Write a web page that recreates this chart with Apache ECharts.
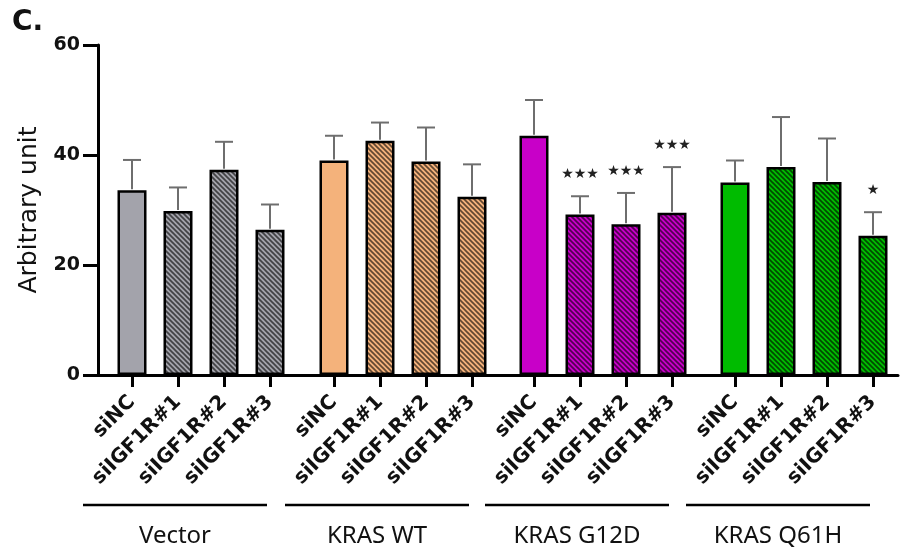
<!DOCTYPE html>
<html>
<head>
<meta charset="utf-8">
<script src="https://cdn.jsdelivr.net/npm/echarts@6/dist/echarts.min.js"></script>
<style>
html,body{margin:0;padding:0;background:#fff;}
#chart{width:902px;height:554px;}
</style>
</head>
<body>
<div id="chart"></div>
<script>
// ---- data ----
var categories = ['siNC', 'siIGF1R#1', 'siIGF1R#2', 'siIGF1R#3'];
var groups = ['Vector', 'KRAS WT', 'KRAS G12D', 'KRAS Q61H'];
var yTicks = [0, 20, 40, 60];

var vectorMean = [33.6, 29.8, 37.3, 26.4];
var wtMean     = [39.0, 42.6, 38.8, 32.4];
var g12dMean   = [43.5, 29.2, 27.4, 29.5];
var q61hMean   = [35.0, 37.8, 35.1, 25.3];

var vectorErr = [5.5, 4.3, 5.1, 4.6];
var wtErr     = [4.5, 3.3, 6.2, 5.9];
var g12dErr   = [6.5, 3.3, 5.7, 8.3];
var q61hErr   = [4.0, 9.1, 7.9, 4.3];

var vectorSig = ['', '', '', ''];
var wtSig     = ['', '', '', ''];
var g12dSig   = ['', '***', '***', '***'];
var q61hSig   = ['', '', '', '*'];

// ---- styling / layout ----
var groupColors = ['#a3a3ab', '#f4b27b', '#c800c8', '#00bb00'];
var gridLefts = [109, 311, 511, 712];
var gridWidth = 184;
var plotTop = 45, plotBottom = 179;

var means = [vectorMean, wtMean, g12dMean, q61hMean];
var errs = [vectorErr, wtErr, g12dErr, q61hErr];
var sigs = [vectorSig, wtSig, g12dSig, q61hSig];

function hatch(color) {
  var s = 5;
  var c = document.createElement('canvas');
  c.width = s; c.height = s;
  var ctx = c.getContext('2d');
  ctx.fillStyle = color;
  ctx.fillRect(0, 0, s, s);
  ctx.strokeStyle = 'rgba(0,0,0,0.6)';
  ctx.lineWidth = 1.7;
  [-s, 0, s].forEach(function (k) {
    ctx.beginPath();
    ctx.moveTo(k - 1, -1);
    ctx.lineTo(k + s + 1, s + 1);
    ctx.stroke();
  });
  return { image: c, repeat: 'repeat' };
}

var grids = [{ left: 98, right: 4, top: plotTop, bottom: plotBottom }];
var xAxes = [{
  gridIndex: 0, type: 'value', min: 0, max: 1,
  axisLine: { show: true, lineStyle: { color: '#000', width: 3 } },
  axisTick: { show: false }, axisLabel: { show: false }, splitLine: { show: false }
}];
var yAxes = [{
  gridIndex: 0, type: 'value', min: 0, max: 60, interval: 20,
  name: 'Arbitrary unit', nameLocation: 'middle', nameGap: 56,
  nameTextStyle: { fontFamily: 'DejaVu Sans', fontSize: 25, color: '#111' },
  axisLine: { show: true, lineStyle: { color: '#000', width: 3 } },
  axisTick: { show: true, length: 15, lineStyle: { color: '#000', width: 3 } },
  axisLabel: { margin: 18, fontFamily: 'DejaVu Sans', fontWeight: 'bold', fontSize: 19, color: '#111' },
  splitLine: { show: false }
}];
var series = [];
var graphics = [{
  type: 'text', left: 12, top: 9,
  style: { text: 'C.', font: 'bold 28px "DejaVu Sans"', fill: '#111' }
}];

for (var g = 0; g < 4; g++) {
  var gi = g + 1;
  grids.push({ left: gridLefts[g], width: gridWidth, top: plotTop, bottom: plotBottom });
  xAxes.push({
    gridIndex: gi, type: 'category', data: categories,
    axisLine: { show: false },
    axisTick: { show: true, alignWithLabel: true, interval: 0, length: 12, lineStyle: { color: '#000', width: 3 } },
    axisLabel: { interval: 0, rotate: 45, margin: 24, fontFamily: 'DejaVu Sans', fontWeight: 'bold', fontSize: 20, color: '#111' }
  });
  yAxes.push({ gridIndex: gi, type: 'value', min: 0, max: 60, show: false });

  var barData = means[g].map(function (v, i) {
    return {
      value: v,
      itemStyle: { color: i === 0 ? groupColors[g] : hatch(groupColors[g]) }
    };
  });
  series.push({
    type: 'bar', xAxisIndex: gi, yAxisIndex: gi, data: barData,
    barWidth: 29,
    itemStyle: { borderColor: '#000', borderWidth: 2.5 },
    z: 2, silent: true
  });

  var errData = means[g].map(function (v, i) { return [i, v, errs[g][i], sigs[g][i]]; });
  series.push({
    type: 'custom', xAxisIndex: gi, yAxisIndex: gi, data: errData, z: 3, silent: true,
    encode: { x: 0, y: 1 },
    renderItem: (function (sigArr) {
      return function (params, api) {
        var i = api.value(0), m = api.value(1), e = api.value(2);
        var base = api.coord([i, m]);
        var top = api.coord([i, m + e]);
        var half = 9;
        var children = [
          { type: 'line', shape: { x1: base[0], y1: base[1] - 1, x2: top[0], y2: top[1] }, style: { stroke: '#6e6e6e', lineWidth: 2 } },
          { type: 'line', shape: { x1: top[0] - half, y1: top[1], x2: top[0] + half, y2: top[1] }, style: { stroke: '#6e6e6e', lineWidth: 2 } }
        ];
        var sg = sigArr[params.dataIndex];
        if (sg) {
          children.push({
            type: 'text',
            style: {
              text: sg.replace(/\*/g, '\u2605'), x: top[0], y: top[1] - 22,
              align: 'center', verticalAlign: 'middle',
              font: 'bold 14px "DejaVu Sans"', fill: '#222'
            }
          });
        }
        return { type: 'group', children: children };
      };
    })(sigs[g])
  });

  var cx = gridLefts[g] + gridWidth / 2 - 26;
  graphics.push({
    type: 'line', shape: { x1: cx - 92, y1: 505, x2: cx + 92, y2: 505 },
    style: { stroke: '#000', lineWidth: 2.5 }
  });
  graphics.push({
    type: 'text', x: cx, y: 536,
    style: { text: groups[g], font: '24px "Noto Sans"', fill: '#111', align: 'center', verticalAlign: 'middle' }
  });
}

var chart = echarts.init(document.getElementById('chart'), null, { renderer: 'canvas' });
chart.setOption({
  animation: false,
  backgroundColor: '#fff',
  grid: grids,
  xAxis: xAxes,
  yAxis: yAxes,
  series: series,
  graphic: graphics
});
</script>
</body>
</html>
